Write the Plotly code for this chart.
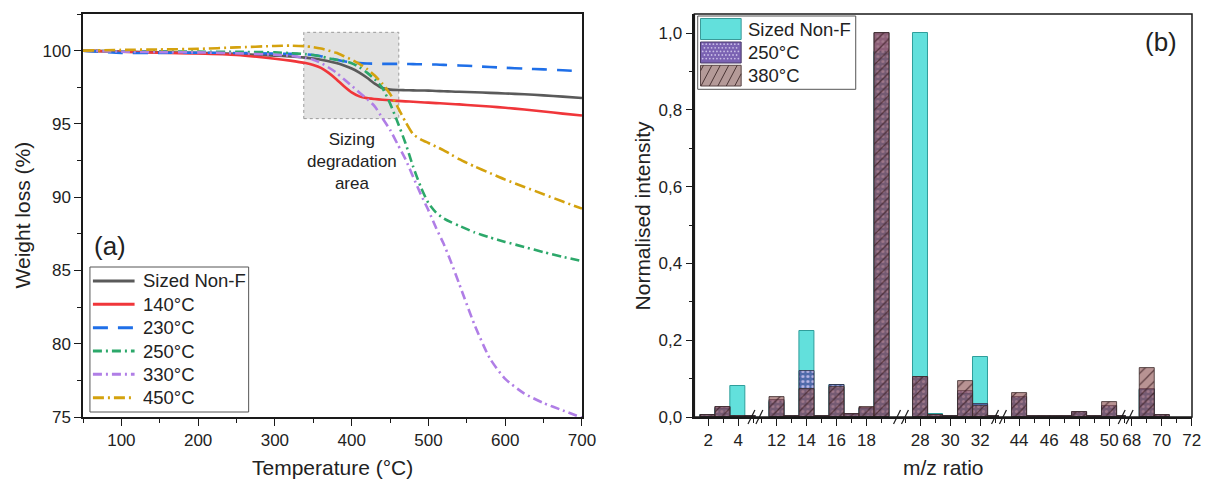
import plotly.graph_objects as go

# ---------------- data: TGA curves (panel a) ----------------
temperature = [50, 100, 150, 200, 250, 300, 320, 340, 350, 360, 370, 380, 390, 400, 410, 420,
               430, 440, 450, 460, 470, 480, 490, 500, 510, 520, 530, 540, 560, 580, 600, 625,
               650, 675, 700]
w_sized = [100.0, 99.93, 99.88, 99.85, 99.78, 99.66, 99.6, 99.52, 99.46, 99.38, 99.28, 99.15,
           98.98, 98.78, 98.5, 98.15, 97.75, 97.45, 97.34, 97.31, 97.3, 97.29, 97.28, 97.27,
           97.25, 97.23, 97.21, 97.19, 97.16, 97.12, 97.08, 97.02, 96.95, 96.86, 96.77]
w_140 = [100.0, 99.92, 99.86, 99.8, 99.7, 99.45, 99.32, 99.15, 99.02, 98.82, 98.48, 98.05,
         97.57, 97.15, 96.88, 96.76, 96.7, 96.65, 96.61, 96.57, 96.54, 96.51, 96.48, 96.45,
         96.42, 96.39, 96.36, 96.33, 96.26, 96.19, 96.1, 95.98, 95.85, 95.7, 95.57]
w_230 = [100.0, 99.84, 99.85, 99.86, 99.84, 99.8, 99.78, 99.75, 99.7, 99.62, 99.5, 99.38,
         99.27, 99.2, 99.15, 99.12, 99.11, 99.1, 99.1, 99.1, 99.09, 99.08, 99.07, 99.06,
         99.05, 99.03, 99.01, 98.99, 98.94, 98.88, 98.83, 98.77, 98.72, 98.66, 98.6]
w_250 = [100.0, 99.95, 99.95, 99.93, 99.92, 99.88, 99.83, 99.76, 99.7, 99.6, 99.48, 99.38,
         99.3, 99.14, 98.88, 98.5, 98.05, 97.45, 96.4, 95.1, 93.7, 92.1, 90.7, 89.6,
         88.95, 88.55, 88.28, 88.05, 87.6, 87.25, 86.95, 86.6, 86.25, 85.93, 85.64]
w_330 = [100.0, 99.93, 99.9, 99.88, 99.82, 99.72, 99.65, 99.5, 99.38, 99.15, 98.85, 98.5,
         98.05, 97.6, 97.15, 96.7, 96.2, 95.4, 94.6, 93.6, 92.6, 91.4, 90.2, 89.1,
         87.9, 86.8, 85.5, 84.1, 81.3, 79.0, 77.6, 76.6, 75.95, 75.45, 74.95]
w_450 = [100.0, 100.05, 100.08, 100.12, 100.22, 100.32, 100.34, 100.3, 100.24, 100.14, 100.0,
         99.85, 99.62, 99.38, 99.1, 98.75, 98.3, 97.75, 97.05, 96.15, 95.15, 94.3, 93.95,
         93.7, 93.45, 93.2, 92.9, 92.6, 92.1, 91.65, 91.2, 90.7, 90.2, 89.7, 89.22]

tga_names = ["Sized Non-F", "140°C", "230°C", "250°C", "330°C", "450°C"]
tga_values = [w_sized, w_140, w_230, w_250, w_330, w_450]

# ---------------- data: MS intensities (panel b) ----------------
mz = [2, 3, 4, 5, 12, 13, 14, 15, 16, 17, 18, 19, 28, 29, 30, 31, 32, 33,
      44, 45, 46, 47, 48, 49, 50, 51, 69, 70]
int_sized = [0.004, 0.02, 0.08, 0.003, 0.04, 0.003, 0.225, 0.003, 0.084, 0.006, 0.02, 0.95,
             1.0, 0.009, 0.003, 0.06, 0.156, 0.003, 0.05, 0.003, 0.002, 0.003, 0.01, 0.002,
             0.025, 0.003, 0.07, 0.003]
int_250 = [0.004, 0.025, 0.002, 0.003, 0.045, 0.003, 0.12, 0.003, 0.084, 0.008, 0.024, 1.0,
           0.105, 0.004, 0.003, 0.068, 0.033, 0.003, 0.052, 0.003, 0.002, 0.003, 0.013, 0.002,
           0.028, 0.003, 0.074, 0.004]
int_380 = [0.004, 0.025, 0.002, 0.003, 0.051, 0.003, 0.073, 0.003, 0.077, 0.009, 0.025, 1.0,
           0.104, 0.004, 0.003, 0.093, 0.028, 0.003, 0.062, 0.003, 0.002, 0.003, 0.014, 0.002,
           0.039, 0.003, 0.127, 0.004]
mz_ticks = [2, 4, 12, 14, 16, 18, 28, 30, 32, 44, 46, 48, 50, 68, 70, 72]
ms_names = ["Sized Non-F", "250°C", "380°C"]
ms_values = [int_sized, int_250, int_380]

# ---------------- layout constants ----------------
W, H = 1218, 482
ML, MR, MT, MB = 83, 17, 14, 65
PW, PH = W - ML - MR, H - MT - MB
FONT = "Liberation Sans, Arial, sans-serif"
AX = "#1a1a1a"
TXT = "#222"

def px_x(px):
    return (px - ML) / PW

def px_y(py):
    return (H - MB - py) / PH

left_dom = [0.0, px_x(586)]
right_start = px_x(699.3)
segments = [(1.07, 5.14), (10.6, 20.3), (26.72, 33.25), (42.66, 51.1), (67.6, 72.02)]
total_units = sum(b - a for a, b in segments)
seg_domains = []
cur = right_start
for a, b in segments:
    w = (1.0 - right_start) * (b - a) / total_units
    seg_domains.append([cur, min(1.0, cur + w)])
    cur += w

fig = go.Figure()

# ---------------- panel a traces ----------------
line_styles = [
    dict(color="#5a5a5a", width=2.6, dash="solid"),
    dict(color="#f0363a", width=2.6, dash="solid"),
    dict(color="#1f6fe8", width=2.6, dash="15px,10px"),
    dict(color="#2ca86a", width=2.6, dash="9px,4px,2px,4px"),
    dict(color="#b07ee6", width=2.6, dash="9px,4px,2px,4px"),
    dict(color="#d4a20e", width=2.6, dash="11px,4px,2px,4px"),
]
for name, vals, ls in zip(tga_names, tga_values, line_styles):
    fig.add_trace(go.Scatter(x=temperature, y=vals, name=name, mode="lines",
                             line=dict(shape="spline", smoothing=0.6, **ls),
                             xaxis="x", yaxis="y", showlegend=False))

# ---------------- panel b traces ----------------
bar_styles = [
    dict(color="#62e0dc", line=dict(color="#2f9e9b", width=1)),
    dict(color="rgba(70,35,140,0.62)", line=dict(color="#2e2440", width=0.8),
         pattern=dict(shape=".", fgcolor="rgba(205,195,240,0.85)", bgcolor="rgba(70,35,140,0.62)",
                      size=5, solidity=0.3, fillmode="replace")),
    dict(color="rgba(140,80,80,0.62)", line=dict(color="#3a2a2a", width=0.8),
         pattern=dict(shape="/", fgcolor="rgba(60,30,35,0.75)", bgcolor="rgba(140,80,80,0.62)",
                      size=8, solidity=0.15, fillmode="replace")),
]
for si, (a, b) in enumerate(segments):
    xa = "x%d" % (si + 3)
    for name, vals, st in zip(ms_names, ms_values, bar_styles):
        xs = [m for m in mz if a <= m <= b]
        ys = [v for m, v in zip(mz, vals) if a <= m <= b]
        fig.add_trace(go.Bar(x=xs, y=ys, name=name, width=1.0, marker=st,
                             xaxis=xa, yaxis="y2", showlegend=False))

tickfont = dict(family=FONT, size=17, color=TXT)
axis_common = dict(showline=True, linecolor=AX, linewidth=1.5, ticks="outside",
                   ticklen=7, tickwidth=1.3, tickcolor=AX, tickfont=tickfont,
                   showgrid=False, zeroline=False)

layout = dict(
    width=W, height=H, margin=dict(l=ML, r=MR, t=MT, b=MB),
    paper_bgcolor="white", plot_bgcolor="white",
    font=dict(family=FONT, color=TXT),
    separators=",.",
    barmode="overlay", bargap=0, showlegend=False,
    xaxis=dict(domain=left_dom, range=[50, 700], tickmode="linear", tick0=0, dtick=100,
               mirror=True, anchor="y",
               minor=dict(ticks="outside", dtick=50, tick0=0, ticklen=4, tickcolor=AX),
               **axis_common),
    yaxis=dict(domain=[0, 1], range=[75, 102.5], tickmode="linear", tick0=0, dtick=5,
               mirror=True, anchor="x",
               minor=dict(ticks="outside", dtick=2.5, tick0=0, ticklen=4, tickcolor=AX),
               **axis_common),
    yaxis2=dict(domain=[0, 1], range=[0, 1.05], tickmode="linear", tick0=0, dtick=0.2,
                tickformat=".1f", anchor="x3",
                minor=dict(ticks="outside", dtick=0.1, tick0=0, ticklen=4, tickcolor=AX),
                **axis_common),
)
for si, ((a, b), dom) in enumerate(zip(segments, seg_domains)):
    tv = [t for t in mz_ticks if a <= t <= b]
    mv = [k for k in range(int(a), int(b) + 1) if a <= k <= b and k not in mz_ticks and k % 2 == 1]
    layout["xaxis%d" % (si + 3)] = dict(
        domain=dom, range=[a, b], anchor="y2", tickmode="array", tickvals=tv,
        ticktext=[str(t) for t in tv],
        minor=dict(ticks="outside", tickmode="array", tickvals=mv, ticklen=4, tickcolor=AX),
        **axis_common)
fig.update_layout(**layout)

shapes = []
annotations = []

def prect(x0, y0, x1, y1, fill, line_color, lw=1, layer="above"):
    shapes.append(dict(type="rect", xref="paper", yref="paper",
                       x0=px_x(x0), x1=px_x(x1), y0=px_y(y1), y1=px_y(y0),
                       fillcolor=fill, line=dict(color=line_color, width=lw), layer=layer))

def pline(x0, y0, x1, y1, color, width, dash="solid"):
    shapes.append(dict(type="line", xref="paper", yref="paper",
                       x0=px_x(x0), x1=px_x(x1), y0=px_y(y0), y1=px_y(y1),
                       line=dict(color=color, width=width, dash=dash), layer="above"))

def note(x, y, text, size, xref="paper", yref="paper", angle=0, xanchor="center"):
    annotations.append(dict(x=x, y=y, xref=xref, yref=yref, text=text, showarrow=False,
                            xanchor=xanchor, yanchor="middle", textangle=angle,
                            font=dict(family=FONT, size=size, color=TXT)))

# frame of panel b
shapes.append(dict(type="rect", xref="paper", yref="paper", x0=right_start, x1=1, y0=0, y1=1,
                   line=dict(color=AX, width=1.5), fillcolor="rgba(0,0,0,0)", layer="above"))

# axis break marks
for dom in seg_domains[:-1]:
    bx = ML + dom[1] * PW
    for off in (-4, 4):
        pline(bx + off - 3.5, 417 + 7, bx + off + 3.5, 417 - 7, AX, 1.2)

# sizing degradation area
shapes.append(dict(type="rect", xref="x", yref="y", x0=337.6, x1=461.4, y0=95.36, y1=101.25,
                   fillcolor="#e2e2e2", line=dict(color="#9a9a9a", width=1, dash="dot"),
                   layer="below"))

# ---- legend of panel a (drawn) ----
prect(90, 267, 250, 412, "white", "#555", 1)
row_y = [281, 304.3, 327.7, 351, 374.3, 397.7]
for name, ls, yy in zip(tga_names, line_styles, row_y):
    pline(93, yy, 135, yy, ls["color"], 3, ls["dash"])
    note(px_x(141), px_y(yy), name, 18.5, xanchor="left")

# ---- legend of panel b (drawn) ----
prect(702.7, 16, 862, 89.3, "white", "#555", 1)
sw_x0, sw_x1 = 705.5, 746.5
sw_rows = [(18.5, 39.5), (42, 63), (65.3, 86)]
# Sized Non-F swatch
prect(sw_x0, sw_rows[0][0], sw_x1, sw_rows[0][1], "#62e0dc", "#3a9a98", 1)
# 250°C swatch: purple with light dots
y0, y1 = sw_rows[1]
prect(sw_x0, y0, sw_x1, y1, "#7a62b2", "#4a3a6a", 1)
dy = 3.6
rr = 0
yy = y0 + 2.2
while yy < y1 - 1:
    xx = sw_x0 + 2.2 + (1.8 if rr % 2 else 0)
    while xx < sw_x1 - 1:
        shapes.append(dict(type="circle", xref="paper", yref="paper",
                           x0=px_x(xx - 0.9), x1=px_x(xx + 0.9), y0=px_y(yy + 0.9),
                           y1=px_y(yy - 0.9), fillcolor="#c9bde6", line=dict(width=0),
                           layer="above"))
        xx += 3.6
    yy += dy
    rr += 1
# 380°C swatch: rosy brown with diagonal hatch
y0, y1 = sw_rows[2]
prect(sw_x0, y0, sw_x1, y1, "#b49a98", "#5a4646", 1)
hh = y1 - y0
slope_dx = 11.0
xs = sw_x0 - slope_dx + 3
while xs < sw_x1:
    ax_, ay_ = xs, y1
    bx_, by_ = xs + slope_dx, y0
    if ax_ < sw_x0:
        t = (sw_x0 - ax_) / slope_dx
        ax_, ay_ = sw_x0, y1 - t * hh
    if bx_ > sw_x1:
        t = (sw_x1 - xs) / slope_dx
        bx_, by_ = sw_x1, y1 - t * hh
    if bx_ > ax_:
        pline(ax_, ay_, bx_, by_, "#4a3535", 1)
    xs += 8.5
for name, (a, b) in zip(ms_names, sw_rows):
    note(px_x(751), px_y((a + b) / 2), name, 18.5, xanchor="left")

note(401, 92.45, "Sizing<br>degradation<br>area", 17, "x", "y")
note(85, 86.64, "(a)", 26, "x", "y")
note(px_x(1169.6), px_y(41.7), "(b)", 26)
note((left_dom[0] + left_dom[1]) / 2, px_y(467), "Temperature (°C)", 21)
note((right_start + 1) / 2, px_y(467), "m/z ratio", 21)
note(px_x(22), px_y(215), "Weight loss (%)", 21, angle=-90)
note(px_x(647), px_y(215), "Normalised intensity", 21, angle=-90)

fig.update_layout(shapes=shapes, annotations=annotations)

fig.write_html("out.html", config={"displayModeBar": False},
               post_script="document.body.style.margin='0px';")
